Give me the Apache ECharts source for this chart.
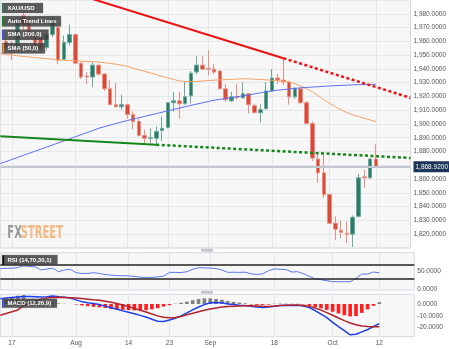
<!DOCTYPE html>
<html><head><meta charset="utf-8">
<script src="https://cdn.jsdelivr.net/npm/echarts@6/dist/echarts.min.js"></script>
<style>html,body{margin:0;padding:0;background:#fff}#c{width:449px;height:349px}</style>
</head><body><div id="c"></div>
<script>
// ---- data ----
const dates = ['Jul 13','Jul 14','Jul 17','Jul 18','Jul 19','Jul 20','Jul 21','Jul 24','Jul 25','Jul 26','Jul 27','Jul 28','Jul 31','Aug 1','Aug 2','Aug 3','Aug 4','Aug 7','Aug 8','Aug 9','Aug 10','Aug 11','Aug 14','Aug 15','Aug 16','Aug 17','Aug 18','Aug 21','Aug 22','Aug 23','Aug 24','Aug 25','Aug 28','Aug 29','Aug 30','Aug 31','Sep 1','Sep 4','Sep 5','Sep 6','Sep 7','Sep 8','Sep 11','Sep 12','Sep 13','Sep 14','Sep 15','Sep 18','Sep 19','Sep 20','Sep 21','Sep 22','Sep 25','Sep 26','Sep 27','Sep 28','Sep 29','Oct 2','Oct 3','Oct 4','Oct 5','Oct 6','Oct 9','Oct 10','Oct 11','Oct 12','Oct 13','Oct 16','Oct 17','Oct 18','Oct 19','Oct 20'];
const tickDates = ['Jul 17','Aug 1','Aug 14','Aug 23','Sep 1','Sep 18','Oct 2','Oct 12'];
const tickLabels = ['17','Aug','14','23','Sep','18','Oct','12'];

// OHLC from Jul 14: [open, close, low, high]
const candleStart = 'Jul 14';
const candles = [
[1959.9,1955.6,1953.0,1962.0],[1956.0,1954.0,1946.3,1960.0],[1955.6,1973.5,1954.0,1975.0],[1978.5,1972.0,1968.0,1981.0],
[1975.7,1964.2,1962.0,1978.0],[1964.2,1957.0,1955.0,1966.0],[1962.8,1954.2,1952.0,1964.0],[1955.6,1964.9,1953.5,1966.0],
[1964.9,1975.0,1963.0,1978.5],[1969.9,1946.3,1943.4,1971.4],[1947.0,1959.2,1946.3,1964.2],[1959.2,1964.9,1957.0,1972.1],
[1964.9,1944.1,1943.4,1965.6],[1944.1,1934.1,1932.6,1944.8],[1934.8,1934.1,1929.0,1937.7],[1934.1,1942.7,1926.9,1944.8],
[1942.7,1936.2,1935.0,1944.0],[1936.2,1925.5,1924.0,1937.0],[1925.5,1914.0,1913.5,1931.9],[1914.0,1912.5,1911.8,1929.8],
[1912.5,1914.0,1910.4,1921.2],[1914.0,1906.8,1903.9,1914.7],[1906.8,1901.8,1896.0,1909.0],[1901.8,1891.7,1891.0,1903.9],
[1891.7,1889.6,1885.3,1896.0],[1889.6,1890.1,1886.0,1896.8],[1889.6,1894.6,1883.8,1898.2],[1895.3,1896.8,1887.4,1905.4],
[1897.5,1915.4,1896.8,1915.6],[1915.4,1916.8,1909.0,1923.3],[1916.8,1914.7,1903.9,1923.3],[1914.7,1919.7,1914.0,1930.5],
[1920.4,1936.9,1914.7,1938.4],[1937.7,1942.7,1936.2,1949.1],[1942.7,1939.8,1939.0,1949.1],[1940.3,1939.8,1935.5,1953.4],
[1939.8,1937.7,1936.2,1943.4],[1938.4,1925.5,1925.0,1939.1],[1925.5,1917.6,1916.1,1929.0],[1916.8,1919.7,1916.1,1923.3],
[1919.7,1919.0,1917.6,1929.0],[1919.0,1921.9,1918.3,1930.5],[1921.9,1914.0,1907.5,1922.6],[1913.3,1908.2,1907.5,1914.7],
[1908.2,1910.4,1901.1,1914.7],[1911.1,1924.0,1910.4,1930.5],[1924.0,1933.3,1923.3,1939.8],[1933.3,1931.9,1929.0,1936.2],
[1931.9,1930.5,1928.3,1947.7],[1930.5,1919.7,1914.0,1931.2],[1919.7,1925.5,1918.3,1926.9],[1925.5,1915.4,1914.7,1926.9],
[1915.4,1900.3,1899.6,1916.8],[1900.3,1875.2,1873.1,1901.8],[1874.5,1864.5,1857.3,1878.8],[1864.5,1848.7,1846.5,1878.8],
[1848.7,1827.9,1827.2,1849.4],[1827.9,1823.6,1815.7,1832.9],[1822.9,1821.4,1817.1,1830.0],[1820.7,1820.0,1813.5,1829.3],
[1820.0,1832.2,1810.7,1833.6],[1832.9,1860.9,1832.2,1863.8],[1861.6,1860.9,1853.7,1866.6],[1860.9,1874.5,1860.2,1875.2],
[1874.5,1868.92,1868.1,1885.3]];

// indicator series, from Jul 13
const lineStart = 'Jul 13';
const sma50 = [1951.0,1950.6,1950.0,1949.5,1949.0,1948.6,1948.2,1947.8,1947.4,1947.0,1946.5,1946.2,1946.0,1945.8,1945.6,1945.4,1945.2,1944.9,1944.5,1944.0,1943.4,1942.6,1941.8,1940.5,1939.3,1938.2,1937.0,1935.8,1934.6,1933.4,1932.3,1931.3,1930.8,1930.7,1930.9,1931.2,1931.5,1931.8,1932.0,1932.2,1932.4,1932.6,1932.8,1932.7,1932.5,1932.3,1932.0,1931.7,1931.4,1931.0,1930.5,1929.2,1927.6,1925.6,1923.3,1920.6,1917.6,1915.0,1912.5,1910.2,1908.2,1906.6,1905.4,1904.1,1902.9,1901.8];
const sma200 = [1871.3,1872.7,1874.2,1875.7,1877.2,1878.7,1880.2,1881.7,1883.2,1884.7,1886.2,1887.7,1889.2,1890.7,1892.2,1893.7,1895.2,1896.8,1898.0,1899.2,1900.3,1901.4,1902.5,1903.5,1904.5,1905.5,1906.5,1907.5,1908.5,1909.5,1910.5,1911.5,1912.5,1913.5,1914.4,1915.3,1916.3,1917.2,1917.9,1918.5,1919.1,1919.8,1920.4,1921.1,1921.8,1922.6,1923.3,1924.0,1924.5,1924.9,1925.4,1925.8,1926.2,1926.5,1926.8,1927.0,1927.3,1927.6,1927.8,1928.0,1928.2,1928.4,1928.5,1928.6,1928.7,1928.8];
const rsi = [59,60,60,62,67,65,64,55,58,60,50,55,57,47,45,45,47,45,42,40,38.5,38.5,38,36,34,33.5,33.8,35,37.5,48,48,47.5,50,57,61.5,61,60.5,59,55,48,48.5,48,48.5,44,42,44,53,58,57,56,49,50,44,37,29,27,24,21,21,21,21,31,43,43,49,47];
const macdLine = [4.5,5,5.5,6,6.3,6.3,6.2,6,6.2,6.8,6.2,5.8,5,3.5,2,1,0.5,-0.5,-1.8,-3.2,-4.5,-5.8,-7,-8.2,-9.6,-11,-12.8,-14.5,-14.8,-13.5,-12,-10,-7.5,-5,-2.5,-0.5,1,1.2,1,0,-0.5,-1,-1.3,-1.8,-2.5,-3,-2.6,-1.8,-1.3,-1,-1.2,-1,-1.6,-3,-5.5,-8.5,-11.5,-15.5,-19,-22.5,-26,-25.5,-23.5,-21.5,-19,-16.5];
const signalLine = [-9.5,-8,-6.5,-5,-1.5,1,2.8,4,5,5.5,5.7,5.6,5.3,5,4.6,4.1,3.6,3.2,2.4,1.4,0.4,-0.8,-2.2,-3.7,-5.2,-6.8,-8.4,-10,-11.2,-11.6,-11.3,-10.5,-9,-7.8,-6.5,-5.3,-4.3,-3.4,-2.6,-2.1,-1.8,-1.6,-1.5,-1.4,-1.6,-1.9,-2,-1.7,-1.3,-1,-0.9,-0.9,-1.2,-2,-3.3,-5.2,-7.3,-9.5,-11.8,-14,-16,-17.5,-18.5,-19,-19.2,-19.2];
// histogram, from Jul 14
const histogram = [5,6,7,7.5,4,3,2,1,1.2,0.5,0.2,0.1,-0.4,-1.2,-1.8,-2.4,-2.8,-3.3,-4,-4.5,-5,-5.2,-5.4,-5.6,-5.2,-4.5,-3.5,-2.2,-1,0.3,1,2,3.2,4.2,4.8,4.8,4.3,3.6,2.5,1.8,1.2,0.6,-0.4,-0.7,-0.8,-0.5,0.2,0.3,0.3,0.2,0.2,-0.4,-1.5,-2.5,-3.7,-5,-6.5,-8,-9.5,-10.5,-10.2,-7.5,-4.5,-1.5,1.5];

// auto trend lines (date, value)
const resistanceSolid = [['Jul 20', 2005.0], ['Sep 20', 1947.7]];
const resistanceDotted = [['Sep 20', 1947.7], ['Oct 20', 1919.0]];
const supportSolid = [['Jul 13', 1891.0], ['Aug 21', 1884.9]];
const supportDotted = [['Aug 21', 1884.9], ['Oct 20', 1875.3]];

// ---- build ----
function pad(arr, startDate) {
  const s = dates.indexOf(startDate);
  return dates.map((d, i) => (i >= s && i - s < arr.length) ? arr[i - s] : '-');
}
function fmt4(v) {
  const s = Math.abs(v).toFixed(4).split('.');
  return (v < 0 ? '-' : '') + s[0].replace(/\B(?=(\d{3})+(?!\d))/g, ',') + '.' + s[1];
}
const lastClose = candles[candles.length - 1][1];
const FONT = 'Liberation Sans';
const isTick = (i, v) => tickDates.indexOf(v) >= 0;
const GL = 0.3, GR = 34.7;
const panelBg = '#f7f7f8', panelBorder = '#d6d9e0', gridCol = '#e6e7eb';

function xAx(idx, showLabels) {
  return {
    type: 'category', gridIndex: idx, data: dates, boundaryGap: false,
    axisLine: { show: false }, axisTick: { show: false },
    axisLabel: showLabels ? {
      show: true, interval: isTick, margin: 3, fontSize: 6.5, color: '#555', fontFamily: FONT,
      formatter: v => tickLabels[tickDates.indexOf(v)]
    } : { show: false },
    splitLine: { show: true, interval: isTick, lineStyle: { color: gridCol, width: 1 } }
  };
}

const chart = echarts.init(document.getElementById('c'), null, { renderer: 'canvas' });
const option = {
  animation: false,
  textStyle: { fontFamily: FONT },
  grid: [
    { left: GL, right: GR, top: -3, height: 250.9, show: true, backgroundColor: panelBg, borderColor: panelBorder, borderWidth: 1 },
    { left: GL, right: GR, top: 252.7, height: 37.3, show: true, backgroundColor: panelBg, borderColor: panelBorder, borderWidth: 1 },
    { left: GL, right: GR, top: 294.3, height: 42.4, show: true, backgroundColor: panelBg, borderColor: panelBorder, borderWidth: 1 }
  ],
  xAxis: [xAx(0, false), xAx(1, false), xAx(2, true)],
  yAxis: [
    { type: 'value', gridIndex: 0, position: 'right', min: 1810, max: 1990, interval: 10,
      axisLine: { show: false }, axisTick: { show: false },
      axisLabel: { margin: 3, fontSize: 6.5, color: '#555', fontFamily: FONT, formatter: fmt4, showMinLabel: false, showMaxLabel: false },
      splitLine: { show: true, lineStyle: { color: gridCol, width: 1 } } },
    { type: 'value', gridIndex: 1, position: 'right', min: -2.9, max: 104.9,
      axisLine: { show: false }, axisTick: { show: false },
      axisLabel: { margin: 3, fontSize: 6.5, color: '#555', fontFamily: FONT, formatter: fmt4, customValues: [0, 50] },
      splitLine: { show: false } },
    { type: 'value', gridIndex: 2, position: 'right', min: -27.6, max: 8.2,
      axisLine: { show: false }, axisTick: { show: false },
      axisLabel: { margin: 3, fontSize: 6.5, color: '#555', fontFamily: FONT, formatter: fmt4, customValues: [-20, -10, 0] },
      splitLine: { show: false } }
  ],
  series: [
    { type: 'candlestick', xAxisIndex: 0, yAxisIndex: 0, data: pad(candles, candleStart), barWidth: 4,
      itemStyle: { color: '#2c7b69', color0: '#d84a3a', borderColor: '#6aa897', borderColor0: '#ec8e80', borderWidth: 1 },
      markLine: { silent: true, symbol: 'none', animation: false,
        data: [{ yAxis: lastClose }],
        lineStyle: { color: '#c2c6cf', width: 2, type: 'solid' },
        label: { show: true, position: 'end', distance: 3, formatter: () => fmt4(lastClose),
          backgroundColor: '#1c3559', color: '#fff', fontSize: 6.5, padding: [2, 2, 2, 2], fontFamily: FONT } } },
    { type: 'line', xAxisIndex: 0, yAxisIndex: 0, data: pad(sma50, lineStart), showSymbol: false, symbol: 'none',
      lineStyle: { color: '#f2a366', width: 1 } },
    { type: 'line', xAxisIndex: 0, yAxisIndex: 0, data: pad(sma200, lineStart), showSymbol: false, symbol: 'none',
      lineStyle: { color: '#5c6ef2', width: 1 } },
    { type: 'line', xAxisIndex: 0, yAxisIndex: 0, data: resistanceSolid, showSymbol: false, symbol: 'none',
      lineStyle: { color: '#f01010', width: 2 } },
    { type: 'line', xAxisIndex: 0, yAxisIndex: 0, data: resistanceDotted, showSymbol: false, symbol: 'none',
      lineStyle: { color: '#f01010', width: 2.5, type: [3, 2.5] } },
    { type: 'line', xAxisIndex: 0, yAxisIndex: 0, data: supportSolid, showSymbol: false, symbol: 'none',
      lineStyle: { color: '#14861a', width: 2 } },
    { type: 'line', xAxisIndex: 0, yAxisIndex: 0, data: supportDotted, showSymbol: false, symbol: 'none',
      lineStyle: { color: '#14861a', width: 2.5, type: [3, 2.5] } },
    { type: 'line', xAxisIndex: 1, yAxisIndex: 1, data: pad(rsi, lineStart), showSymbol: false, symbol: 'none',
      lineStyle: { color: '#5a78ee', width: 1 },
      markLine: { silent: true, symbol: 'none', animation: false, label: { show: false },
        lineStyle: { color: '#222', width: 1.5, type: 'solid' }, data: [{ yAxis: 70 }, { yAxis: 30 }] } },
    { type: 'bar', xAxisIndex: 2, yAxisIndex: 2, data: pad(histogram, candleStart), barWidth: 3.6,
      itemStyle: { color: p => (p.value >= 0 ? '#808080' : '#ff1e1e') } },
    { type: 'line', xAxisIndex: 2, yAxisIndex: 2, data: pad(macdLine, lineStart), showSymbol: false, symbol: 'none',
      lineStyle: { color: '#1f3ff0', width: 1.5 } },
    { type: 'line', xAxisIndex: 2, yAxisIndex: 2, data: pad(signalLine, lineStart), showSymbol: false, symbol: 'none',
      lineStyle: { color: '#b3242a', width: 1.5 } }
  ],
  graphic: { elements: [] }
};

function tag(x, y, w, h, text, marker) {
  return { type: 'group', x: x, y: y, children: [
    { type: 'rect', z: 100, shape: { x: 0, y: 0, width: w, height: h }, style: { fill: 'rgba(62,62,62,0.85)', stroke: 'rgba(120,120,120,0.6)', lineWidth: 0.5 } },
    { type: 'rect', z: 101, shape: { x: 0.5, y: 0.5, width: 1.6, height: h - 1 }, style: { fill: marker } },
    { type: 'text', z: 102, x: 5.5, y: h / 2, style: { text: text, fill: '#fff', font: 'bold 6px "Liberation Sans"', textVerticalAlign: 'middle', verticalAlign: 'middle' } }
  ] };
}
option.graphic.elements = [
  { type: 'rect', z: 100, shape: { x: 201, y: 248.8, width: 12, height: 3, r: 1 }, style: { fill: '#c4c6cc' } },
  { type: 'rect', z: 100, shape: { x: 201, y: 290.8, width: 12, height: 3, r: 1 }, style: { fill: '#c4c6cc' } },
  tag(2, 3, 41, 10, 'XAU/USD', '#2c7b69'),
  tag(2, 16, 59, 10.5, 'Auto Trend Lines', '#14861a'),
  tag(2, 29.5, 46.5, 10.5, 'SMA (200,0)', '#3a55f0'),
  tag(2, 43, 43, 10.5, 'SMA (50,0)', '#f08a3c'),
  tag(2, 255, 55.5, 10.5, 'RSI (14,70,30,1)', '#111'),
  tag(2, 298.8, 55, 9, 'MACD (12,26,9)', '#3a55f0'),
  { type: 'text', z: 1, x: 7.3, y: 224, scaleX: 0.62, style: { text: 'FX', fill: 'rgba(120,120,120,0.75)', font: 'bold 18px "DejaVu Sans Condensed"' } },
  { type: 'text', z: 1, x: 20.7, y: 224, scaleX: 0.62, style: { text: 'STREET', fill: 'rgba(240,170,100,0.8)', font: 'bold 18px "DejaVu Sans Condensed"' } }
];
chart.setOption(option);
</script>
</body></html>
